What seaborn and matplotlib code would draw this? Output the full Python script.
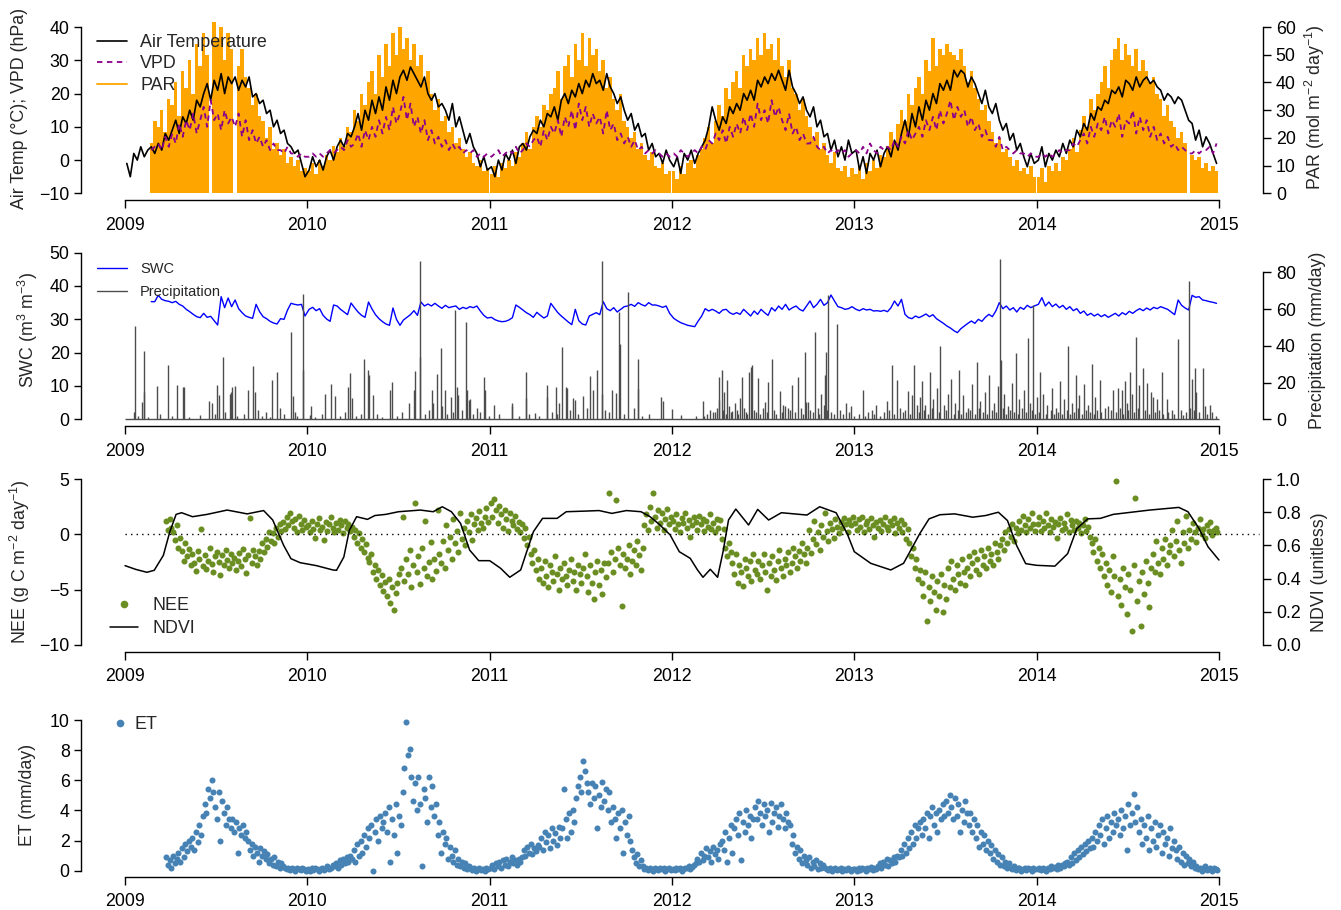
import numpy as np
import pandas as pd
import matplotlib
matplotlib.use("Agg")
import matplotlib.pyplot as plt
from matplotlib.lines import Line2D
import seaborn as sns

# ------------------------------------------------------------------
# Site record 2009-2014
# ------------------------------------------------------------------
years = [2009, 2010, 2011, 2012, 2013, 2014]
year_ticks = [2009, 2010, 2011, 2012, 2013, 2014, 2015]

# weekly air temperature (deg C), one line per year
air_temp = [
    -1, -5, 2, 0, 4, 1, 3, 4, 2, 5, 3, 8, 6, 9, 12, 8, 13, 11, 15, 12, 18, 16, 20, 23, 18, 24, 21, 26, 20, 25, 23, 25, 21, 24, 22, 25, 19, 20, 17, 18, 14, 15, 10, 12, 8, 9, 5, 4, 2, 3, -1, -5,
    -3, 1, -2, 0, -3, 1, 3, 0, 4, 6, 4, 8, 7, 10, 14, 9, 15, 12, 18, 14, 19, 15, 22, 18, 24, 20, 25, 27, 24, 28, 26, 24, 22, 25, 20, 18, 20, 16, 17, 15, 12, 17, 10, 13, 9, 5, 8, 4, 2, -2, 1, -3,
    -2, -5, 0, -3, 2, 0, 3, -1, 4, 5, 3, 7, 9, 8, 12, 10, 14, 13, 16, 12, 18, 20, 17, 21, 19, 23, 20, 24, 22, 26, 23, 24, 21, 26, 22, 20, 17, 19, 15, 12, 14, 9, 11, 7, 8, 3, 5, 1, 2, -1, 3, 0,
    -2, 1, -4, 2, 0, 3, -1, 2, 4, 6, 10, 16, 12, 9, 13, 11, 16, 14, 17, 15, 20, 18, 21, 18, 24, 22, 25, 23, 26, 24, 27, 24, 21, 27, 22, 20, 17, 19, 15, 13, 16, 10, 12, 7, 8, 3, 6, 1, 4, 0, 6, 2,
    3, -3, 1, -4, 2, 0, 3, -2, 2, 4, 1, 6, 3, 8, 12, 7, 14, 10, 16, 12, 18, 15, 20, 17, 23, 21, 24, 21, 27, 25, 27, 26, 22, 25, 23, 20, 17, 21, 16, 14, 17, 12, 9, 11, 6, 8, 3, 5, 1, -2, 2, -1,
    0, 4, -2, 2, 0, 3, 1, 5, 2, 6, 4, 9, 7, 11, 9, 14, 12, 16, 15, 18, 17, 21, 20, 22, 19, 24, 23, 21, 25, 22, 24, 25, 23, 24, 22, 21, 18, 20, 19, 17, 19, 18, 15, 12, 11, 6, 9, 4, 7, 5, 2, -1,
]

# weekly VPD (hPa), from mid-February 2009
vpd = [
    3, 4, 5, 3, 7, 4, 8, 5, 11, 7, 12, 9, 14, 8, 12, 16, 10, 18, 12, 14, 9, 15, 11, 13, 10, 14, 7, 12, 6, 9, 5, 7, 4, 6, 3, 5, 3, 3, 2, 4, 2, 2, 1, 2, 1,
    1, 2, 1, 2, 1, 2, 3, 2, 3, 4, 3, 6, 4, 5, 8, 4, 9, 6, 10, 7, 12, 8, 13, 9, 16, 11, 14, 19, 12, 17, 10, 13, 8, 12, 6, 9, 5, 7, 4, 6, 3, 5, 3, 4, 2, 3, 2, 3, 1, 2, 1, 2,
    1, 2, 3, 1, 2, 3, 2, 4, 2, 3, 5, 4, 6, 7, 4, 9, 6, 10, 8, 12, 7, 13, 10, 15, 9, 17, 12, 16, 10, 14, 11, 13, 8, 15, 9, 11, 6, 8, 5, 7, 4, 6, 3, 4, 2, 3, 2, 3, 2, 1, 2, 1,
    2, 1, 3, 2, 1, 2, 3, 2, 4, 3, 6, 5, 8, 6, 9, 5, 10, 7, 11, 8, 13, 9, 14, 10, 17, 12, 15, 11, 18, 13, 16, 12, 9, 14, 8, 10, 6, 8, 5, 5, 7, 4, 3, 4, 2, 3, 2, 3, 2, 3, 1, 2,
    3, 2, 4, 2, 5, 3, 2, 4, 3, 4, 3, 6, 4, 7, 5, 9, 6, 8, 10, 7, 12, 9, 13, 9, 15, 11, 14, 18, 12, 16, 13, 15, 10, 13, 9, 11, 7, 9, 6, 6, 4, 7, 3, 4, 3, 2, 3, 2, 2, 1, 2, 1,
    1, 2, 1, 2, 1, 2, 3, 2, 3, 3, 5, 4, 6, 8, 5, 10, 7, 11, 9, 13, 8, 12, 10, 14, 7, 12, 11, 15, 8, 13, 9, 12, 7, 10, 6, 8, 5, 7, 4, 5, 3, 4, 3, 2, 2, 3, 2, 3, 3, 4, 2, 5,
]

# weekly PAR (mol m-2 day-1), from mid-February 2009 (0 = sensor gap)
par = [
    18, 26, 24, 30, 22, 34, 32, 40, 28, 44, 38, 48, 36, 54, 46, 58, 50, 0, 62, 56, 60, 48, 58, 52, 0, 46, 52, 42, 38, 32, 36, 28, 26, 20, 24, 16, 18, 14, 16, 11, 13, 10, 12, 8, 9,
    8, 11, 7, 12, 10, 14, 12, 17, 15, 20, 17, 24, 22, 30, 26, 36, 32, 40, 44, 36, 50, 42, 54, 46, 58, 50, 60, 52, 56, 48, 54, 46, 50, 40, 44, 36, 30, 34, 26, 28, 22, 24, 18, 20, 16, 13, 15, 11, 10, 12, 8, 9,
    7, 10, 6, 11, 9, 12, 10, 15, 13, 18, 22, 16, 24, 28, 24, 32, 30, 36, 38, 44, 34, 46, 50, 42, 54, 48, 58, 46, 56, 50, 52, 44, 48, 38, 42, 34, 30, 36, 26, 24, 20, 22, 16, 18, 14, 12, 15, 10, 9, 11, 7, 8,
    8, 5, 10, 7, 11, 12, 9, 14, 16, 20, 24, 18, 26, 32, 28, 38, 34, 40, 44, 38, 50, 46, 52, 48, 56, 50, 58, 52, 54, 48, 56, 46, 42, 48, 38, 36, 30, 34, 28, 24, 20, 22, 16, 18, 14, 11, 15, 9, 8, 10, 6, 9,
    7, 10, 5, 11, 8, 12, 9, 14, 13, 17, 22, 18, 25, 30, 26, 36, 32, 38, 42, 36, 48, 44, 56, 46, 52, 50, 54, 51, 50, 48, 52, 46, 40, 44, 38, 34, 30, 32, 26, 22, 18, 20, 15, 16, 13, 10, 12, 8, 9, 7, 10, 6,
    6, 9, 4, 10, 8, 11, 8, 13, 12, 16, 20, 15, 23, 28, 24, 34, 30, 36, 40, 46, 38, 48, 52, 56, 48, 54, 50, 46, 52, 44, 48, 44, 40, 42, 36, 34, 28, 32, 26, 24, 20, 22, 18, 0, 14, 12, 13, 9, 11, 8, 10, 8,
]

# weekly soil water content (m3 m-3, %), from mid-February 2009
swc = [
    35.3, 35.3, 37.2, 36.0, 35.6, 35.4, 35.0, 35.4, 34.5, 34.0, 33.0, 32.3, 31.5, 30.8, 30.5, 31.8, 30.6, 30.9, 29.6, 28.3, 36.8, 33.5, 36.4, 33.8, 35.8, 33.2, 32.0, 31.0, 30.6, 30.3, 34.5, 32.3, 30.8, 30.2, 29.4, 28.9, 28.6, 30.2, 30.0, 32.8, 34.8, 34.5, 34.3, 34.5, 31.0,
    33.0, 33.6, 32.6, 33.2, 31.2, 30.1, 29.4, 34.3, 34.0, 33.0, 32.2, 31.4, 34.9, 33.5, 32.2, 31.2, 30.6, 35.2, 33.1, 31.4, 30.2, 29.3, 28.6, 28.2, 33.4, 30.0, 28.2, 29.8, 30.6, 31.4, 32.6, 31.2, 35.2, 34.0, 34.6, 34.0, 34.8, 34.0, 33.3, 34.2, 33.5, 33.8, 34.0, 33.0, 33.6, 33.2, 33.8, 33.5, 34.0, 32.5, 31.2, 30.4,
    30.6, 29.9, 29.5, 29.3, 29.4, 29.8, 30.5, 34.3, 33.6, 32.8, 32.0, 31.4, 30.6, 32.1, 31.2, 30.4, 31.0, 34.8, 33.4, 32.0, 31.0, 30.1, 29.2, 28.4, 33.0, 29.6, 28.6, 28.3, 31.0, 31.5, 32.0, 31.4, 35.3, 33.2, 32.6, 33.5, 32.2, 33.0, 33.8, 34.0, 34.5, 33.9, 35.0, 34.4, 34.0, 35.0, 34.3, 34.3, 34.0, 33.6, 34.0, 31.8,
    30.3, 29.6, 29.0, 28.6, 28.2, 28.0, 27.8, 29.5, 31.0, 33.2, 32.5, 33.0, 32.5, 31.8, 32.8, 33.0, 32.0, 31.5, 32.0, 31.5, 33.0, 32.0, 31.0, 32.5, 31.5, 33.0, 32.0, 31.2, 33.5, 32.5, 34.0, 33.0, 34.5, 32.8, 33.5, 34.0, 33.0, 32.5, 34.0, 35.5, 33.5, 34.5, 36.0, 34.2, 35.0, 37.3, 35.5, 33.8, 33.5, 33.0, 33.2, 33.8,
    33.0, 32.6, 33.2, 32.8, 33.0, 32.5, 32.6, 32.4, 32.7, 32.3, 33.5, 35.5, 34.0, 36.0, 31.5, 30.5, 30.2, 31.0, 30.5, 31.0, 31.6, 30.8, 31.4, 30.2, 29.5, 28.8, 28.0, 27.4, 26.6, 26.0, 27.2, 28.0, 28.8, 29.5, 28.8, 30.0, 29.4, 30.6, 31.5, 30.8, 32.5, 35.0, 33.2, 34.0, 32.8, 33.5, 32.2, 33.6, 33.0, 34.2, 33.5, 34.0,
    34.5, 36.5, 34.0, 35.2, 33.8, 34.6, 33.5, 34.2, 33.0, 33.8, 32.6, 33.2, 31.8, 32.5, 31.2, 31.8, 31.0, 31.6, 30.8, 31.4, 30.6, 31.2, 31.8, 31.0, 32.0, 31.4, 32.4, 31.8, 32.6, 33.2, 32.6, 33.4, 32.8, 33.6, 33.2, 33.8, 33.4, 33.0, 32.2, 31.4, 35.8, 34.2, 33.4, 32.8, 37.2, 36.6, 36.8, 35.8, 35.6, 35.3, 35.1, 34.8,
]

# rain days: day number since 1 Jan 2009, daily total (mm)
precip_day = [
    17, 20, 33, 37, 38, 63, 87, 105, 116, 118, 169, 174, 185, 188, 197, 210, 213, 214, 220, 247, 257, 260, 267, 283, 294, 304, 310,
    333, 337, 340, 356, 357, 371, 372, 401, 413, 421, 447, 451, 454, 472, 479, 487, 489, 497, 530, 534, 568, 578, 581, 590, 591,
    614, 617, 624, 632, 634, 641, 652, 661, 665, 668, 683, 686, 690, 692, 720, 721, 739, 775, 776, 803, 804, 821, 845, 846, 863, 870,
    875, 883, 886, 897, 901, 917, 932, 938, 945, 955, 956, 975, 984, 990, 991, 1008, 1020, 1027, 1028, 1073, 1077, 1096, 1113, 1143,
    1157, 1172, 1177, 1189, 1190, 1195, 1200, 1206, 1216, 1221, 1231, 1236, 1244, 1250, 1254, 1257, 1268, 1282, 1289, 1296, 1312,
    1322, 1329, 1337, 1349, 1362, 1365, 1369, 1383, 1395, 1400, 1402, 1404, 1409, 1426, 1445, 1454, 1479, 1489, 1496, 1505, 1527,
    1536, 1547, 1569, 1576, 1581, 1586, 1592, 1597, 1603, 1612, 1619, 1626, 1633, 1640, 1648, 1655, 1662, 1671, 1679, 1688, 1697,
    1706, 1713, 1722, 1731, 1740, 1748, 1753, 1754, 1761, 1768, 1776, 1784, 1791, 1800, 1808, 1812, 1819, 1826, 1833, 1840, 1848,
    1858, 1866, 1874, 1882, 1890, 1897, 1905, 1912, 1921, 1929, 1937, 1944, 1953, 1970, 1980, 1990, 1997, 2004, 2007, 2014, 2018,
    2026, 2032, 2040, 2047, 2055, 2060, 2067, 2077, 2087, 2097, 2109, 2119, 2132, 2137, 2144, 2146, 2159, 2164, 2174,
]
precip_mm = [
    4, 51, 9.6, 37, 15, 18, 29.5, 18.7, 17.8, 17.4, 10, 9, 18.7, 13, 34, 13.8, 15, 17.8, 18, 16, 29, 15, 5, 4, 21.4, 25.6, 6,
    47.7, 12.7, 4, 68, 27, 2.4, 7, 14, 19, 12.7, 17.8, 25.4, 11.4, 3, 32.6, 26.8, 24, 13.2, 16, 20.5, 8.7, 16, 26.5, 86, 34,
    16, 8.7, 24.5, 39, 7, 16, 12, 59.5, 17.8, 13.2, 53, 16, 10.5, 11, 22.8, 16, 7.8, 8.7, 7, 11.8, 25.6, 3.3, 12.3, 18.7, 17.4, 8.7,
    39.5, 17.8, 17.2, 11.4, 10.5, 12.9, 23.8, 16, 26.8, 86, 13.6, 16, 14.5, 58.6, 41, 69, 6, 32.8, 16.3, 12, 10, 5.6, 2.4, 1.8,
    10.2, 5, 4.2, 22.8, 10.5, 26.8, 15, 21.4, 4.5, 8.7, 11.8, 22.8, 4.2, 25.6, 28.3, 29.5, 22.3, 9.6, 20.5, 32.6, 15.6,
    7.3, 6, 18.7, 22.8, 36.8, 9.6, 9.6, 47.7, 13.6, 7.8, 24, 36.8, 67.6, 51.8, 8.7, 7, 15.8, 4.2, 5, 7.8, 10.2,
    29.5, 21.4, 15.6, 13.2, 29.5, 7.8, 12, 21, 8, 26, 11, 17, 40, 8, 14, 22, 9, 27, 13, 6, 19,
    31, 10, 15, 24, 9, 18, 87, 32, 14, 7, 20, 36, 11, 16, 44, 9, 62, 12, 26, 14, 8,
    17, 6, 21, 11, 40, 9, 24, 13, 19, 8, 30, 12, 21.4, 7, 16, 17, 16, 21, 8.7, 26, 14,
    45, 18.7, 28, 19.6, 15, 12.3, 10.9, 26, 10.9, 5, 43.9, 2.4, 75, 22, 27.7, 15, 28, 7, 7.8,
]
# light rain days
drizzle_day = [
    25, 45, 70, 95, 128, 150, 180, 200, 225, 238, 275, 290, 318, 345, 380, 395, 430, 440, 462, 505,
    515, 545, 555, 600, 608, 645, 658, 675, 698, 705, 712, 730, 750, 790, 810, 830, 855, 866, 892, 908,
    925, 962, 970, 1000, 1035, 1050, 1160, 1166, 1182, 1186, 1198, 1203, 1210, 1213, 1226, 1228,
    1240, 1247, 1261, 1264, 1272, 1278, 1286, 1300, 1305, 1316, 1318, 1333, 1342, 1354, 1358, 1373, 1378, 1388, 1391, 1406,
    1414, 1420, 1432, 1438, 1450, 1460, 1470, 1482, 1500, 1512, 1520, 1531, 1540, 1552, 1558, 1563, 1573, 1590, 1600, 1608,
    1616, 1630, 1645, 1660, 1668, 1675, 1685, 1693, 1702, 1710, 1718, 1727, 1736, 1744, 1758, 1765, 1772, 1780, 1788, 1796,
    1804, 1816, 1823, 1830, 1845, 1855, 1862, 1870, 1878, 1887, 1894, 1901, 1909, 1917, 1925, 1933, 1941, 1948, 1956, 1963,
    1975, 1985, 1993, 2000, 2010, 2021, 2030, 2043, 2051, 2063, 2072, 2080, 2090, 2101, 2115, 2126, 2134, 2141, 2151, 2168,
    2178, 2185,
]
drizzle_mm = [
    2, 1.5, 3, 2, 1, 2.5, 3, 4, 2, 3, 2, 1.5, 3, 2, 1, 3, 2, 4, 2, 3,
    1.5, 2, 4, 3, 5, 3, 4, 5, 3, 6, 4, 2, 3, 2, 3, 2, 4, 3, 5, 3,
    6, 5, 4, 3, 2, 3, 2, 3, 4, 6, 5, 3, 7, 4, 5, 3,
    6, 3, 5, 4, 3, 6, 4, 5, 3, 4, 8, 5, 4, 6, 3, 5, 4, 6, 3, 5,
    4, 3, 5, 3, 4, 2, 3, 2, 3, 2, 4, 5, 3, 6, 4, 5, 3, 4, 5, 3,
    6, 4, 5, 3, 5, 3, 4, 5, 3, 6, 4, 3, 5, 4, 6, 3, 5, 4, 3, 6,
    4, 5, 3, 4, 3, 5, 3, 4, 3, 5, 3, 4, 6, 3, 5, 4, 3, 5, 4, 6,
    5, 4, 6, 3, 5, 4, 6, 5, 3, 4, 5, 3, 4, 3, 5, 4, 6, 5, 4, 3,
    4, 2,
]

# MODIS NDVI (decimal year, value)
ndvi_t = [
    2009.00, 2009.06, 2009.12, 2009.16, 2009.21, 2009.245, 2009.28, 2009.31, 2009.37, 2009.45, 2009.56, 2009.67, 2009.76, 2009.81, 2009.87, 2009.91, 2009.96,
    2010.05, 2010.14, 2010.16, 2010.20, 2010.23, 2010.27, 2010.33, 2010.37, 2010.43, 2010.50, 2010.62, 2010.69, 2010.74, 2010.79, 2010.84, 2010.89, 2010.94,
    2011.00, 2011.06, 2011.11, 2011.17, 2011.20, 2011.24, 2011.29, 2011.37, 2011.42, 2011.53, 2011.60, 2011.67, 2011.75, 2011.83, 2011.88, 2011.93, 2011.99,
    2012.04, 2012.10, 2012.14, 2012.17, 2012.21, 2012.25, 2012.28, 2012.31, 2012.35, 2012.42, 2012.47, 2012.53, 2012.60, 2012.74, 2012.81, 2012.90, 2012.96,
    2013.00, 2013.09, 2013.20, 2013.27, 2013.32, 2013.36, 2013.41, 2013.47, 2013.55, 2013.65, 2013.72, 2013.79, 2013.84, 2013.89, 2013.94,
    2014.00, 2014.10, 2014.17, 2014.22, 2014.28, 2014.35, 2014.42, 2014.62, 2014.78, 2014.83, 2014.89, 2014.94, 2015.00,
]
ndvi = [
    0.478, 0.455, 0.438, 0.450, 0.540, 0.680, 0.787, 0.797, 0.773, 0.787, 0.813, 0.790, 0.810, 0.753, 0.600, 0.520, 0.496,
    0.478, 0.452, 0.450, 0.530, 0.690, 0.773, 0.757, 0.780, 0.787, 0.803, 0.813, 0.803, 0.833, 0.803, 0.733, 0.572, 0.508,
    0.508, 0.462, 0.408, 0.452, 0.552, 0.683, 0.763, 0.763, 0.803, 0.807, 0.810, 0.793, 0.810, 0.803, 0.773, 0.727, 0.663,
    0.562, 0.522, 0.452, 0.408, 0.456, 0.408, 0.562, 0.753, 0.819, 0.723, 0.817, 0.753, 0.797, 0.783, 0.833, 0.797, 0.673,
    0.562, 0.492, 0.452, 0.492, 0.592, 0.673, 0.760, 0.785, 0.790, 0.770, 0.780, 0.800, 0.750, 0.600, 0.490,
    0.480, 0.475, 0.550, 0.700, 0.760, 0.763, 0.787, 0.813, 0.829, 0.803, 0.703, 0.592, 0.512,
]

# half-weekly NEE (g C m-2 day-1), from late March 2009
nee = [
    1.2, 0.4, 1.4, 0.6, 0.2, -0.5, 0.8, -1.2, -0.3, -1.5, -2.4, -0.8, -2.0, -1.3, -2.8, -1.8, -2.6, -3.3, -1.5, -2.2, 0.5, -2.9, -1.9, -3.1, -2.4, -1.2, -2.7, -3.4, -2.0, -1.6,
    -2.5, -3.7, -1.9, -2.8, -1.4, -2.3, -3.0, -1.8, -2.6, -2.1, -3.2, -2.4, -1.7, -2.9, -1.3, -2.2, -3.5, -1.9, 1.5, -2.6, -1.4, -2.0, -2.8,
    -1.5, -2.2, -0.8, -1.6, -0.4, -1.1, 0.2, -0.6, 0.1, -0.8, 0.6, -0.2, 0.9, 0.3, 1.1, 0.5, 1.6, 0.8, 1.9, 1.2, 0.6, 1.4, 0.2, 1.7, 0.9, 0.4, 1.3, 0.7,
    0.8, 0.2, 1.2, 0.5, -0.3, 0.9, 1.5, 0.4, 0.7, -0.5, 1.1, 0.3, 0.9, 1.6, 0.6, 0.2, 1.0, 0.4, 1.3, 0.8, 0.1, 1.2, 0.6, 0.9, 0.3,
    0.7, -0.2, 0.4, -0.8, 0.1, -1.2, -0.4, -1.6, -0.9, -2.1,
    -2.5, -1.8, -3.4, -2.8, -4.0, -3.2, -4.6, -3.7, -5.1, -4.3, -5.6, -4.0, -6.2, -4.8, -6.8, -5.3, -4.4, -3.6,
    -3.0, 1.6, -4.2, -2.2, -3.6, -1.4, -4.8, -2.8, 2.8, -3.4, -2.0, -4.5, -1.2, -3.0, 1.2, -3.8, -2.5, -0.7, -4.0, -2.2, -3.3, 2.2, -1.8,
    -2.6, -0.6, -3.0, 0.8, -1.4, -0.2, -2.2, 1.4, -0.8, 0.3, -1.6, 1.9, -0.4, 0.6, -1.0,
    1.2, 0.2, 1.8, -0.5, 0.9, 1.5, 0.4, 2.1, 1.0, 0.6, 1.6, 2.4, 1.1,
    2.8, 1.6, 3.2, 2.2, 1.0, 2.6, 1.8, 0.6, 2.2, 1.4, 0.3, 1.9, 1.2, 0.8, 1.7, 0.5, 1.1, 0.2, 0.9, -0.3, 0.6,
    -1.0, -0.2, -1.8, -2.6, -1.4, -3.2, -2.2, -4.0,
    -3.0, -4.4, -2.4, -3.8, -4.8, -2.8, -3.4, -4.2, -2.0, -3.6, -5.0, -3.0, -4.0, -2.6, -3.8, -4.6, -3.2, -2.2, -4.2, -3.4, -5.0, -2.8, -3.6, -4.4, -3.0, -1.8,
    -3.8, -5.2, -2.8, -4.4, -5.8, -3.4, -2.4, -4.6, -3.2, -5.4, -2.6, -3.9,
    -2.6, 3.7, -1.6, -3.4, -2.2, 3.1, -1.2, -2.8, -6.5, -1.8, -3.0, -2.2, -1.0, -3.6, -2.4, -1.4, -2.8, -0.6, -1.9, -3.2, -1.2,
    0.8, 1.8, 0.4, 2.5, 1.2, 3.7, 1.6, 0.6, 2.2, 1.0, 1.9, 0.4, 1.4, 2.3, 0.9, 1.6,
    1.2, 0.5, 1.8, 0.9, 0.2, 1.5, 1.0, 1.9, 0.6, 1.3, -0.2, 0.8, 1.6, 1.1, 0.4, 1.7, 0.9, 1.4, 0.3, 1.2, 0.7, 1.8, 0.5, 1.0, 0.2, 1.4, 0.6,
    1.3, -0.4, 0.5, -1.2, -2.0, -0.8, -1.6,
    -2.6, -3.6, -1.8, -4.4, -2.8, -3.4, -4.7, -2.2, -3.0, -3.8, -2.4, -4.2, -1.8, -3.2,
    -3.6, -2.4, -4.0, -2.8, -1.8, -3.4, -5.0, -2.6, -3.8, -2.0, -3.2, -4.1, -2.4, -1.4, -3.0, -3.8, -2.2, -2.8, -1.6, -3.4, -2.6, -1.2, -2.0, -3.0, -1.5, -2.4, -0.8, -1.8, -2.6,
    -1.2, 0.4, -1.7, -0.4, 1.2, -0.9, 0.2, -1.4, 0.8, -0.2, 1.9, 0.3, -0.6, 1.0, 0.5, -0.3, 1.4, 0.7, 0.1, 1.1,
    0.6, 1.5, 0.9, 0.2, 1.3, 0.8, 1.6,
    1.0, 0.4, 1.4, 0.7, 1.6, 0.2, 0.9, 1.2, 0.5, 1.5, 0.8, -0.2, 1.1, 0.6, 1.3, 0.3, 0.9, 1.6, 0.7, 0.4, 1.2, 0.8, 1.5, 0.1, 1.0, 0.6, 1.3, 0.2, 0.9, -0.4, 0.5,
    -0.8, -2.0, -1.2, -3.0, -2.2, -4.0, -3.2,
    -4.4, -5.6, -3.4, -7.8, -4.8, -6.0, -3.8, -5.2, -6.8, -4.2, -5.6, -3.6, -7.0, -4.6, -5.8,
    -3.0, -4.8, -2.4, -4.0, -5.0, -2.8, -3.6, -4.4, -2.2, -3.4, -4.6,
    -3.0, -2.0, -3.8, -2.6, -1.6, -3.2, -2.2, -3.6, -1.4, -2.8, -2.0, -3.0, -1.2, -2.4, -1.8, -2.8, -0.8, -1.6, -2.2, -1.0,
    -0.4, -1.4, 0.2, -0.8, 0.5, -0.2, 0.9, -0.6, 0.6, 0.1,
    1.2, 0.4, 1.7, 0.8, 0.2, 1.4, 0.6, 1.9, 0.9, 0.3,
    0.9, 1.6, 0.3, 1.2, 0.6, 1.9, 0.8, 0.2, 1.4, 0.7, 1.1, -0.3, 0.9, 1.5, 0.4, 1.0, 0.6, 1.8, 0.2, 1.3, 0.8, 0.4, 1.2, 0.6, 1.0, 0.1, 0.8, 1.4, 0.3, 0.7, -0.2,
    -0.8, -1.6, -0.4, -2.4, -1.2, -3.0, -1.8, -3.8,
    -2.6, -4.6, -3.2, -5.2, -2.0, -3.8, 4.8, -5.6, -4.0, -6.4, -3.0, -4.8, -7.2, -3.6, -5.0, -8.7, -2.8, 3.3, -6.0, -4.2, -8.3, -3.4, -5.4, -2.4, -4.4, -6.6, -3.0,
    -1.8, -3.4, -0.6, -2.6, -3.6, -1.2, -2.2, -0.4, -2.8, -1.6,
    -1.0, 0.4, -2.0, -0.6, 1.2, -1.4, -2.6, 0.2, -0.8, 1.7, -1.2,
    0.4, -0.4, 1.0, 0.2, -0.7, 0.6, 1.4, 0.0, 0.5, -0.3, 0.8, 0.3, 1.1, -0.1, 0.4, 0.6, 0.2,
]

# half-weekly evapotranspiration (mm/day), from late March 2009
et = [
    0.9, 0.4, 0.7, 0.2, 1.0, 0.5, 0.8, 1.2, 0.6, 1.5, 0.9, 1.8, 1.3, 2.0, 1.6, 2.2, 1.4, 2.6, 1.9, 3.0, 2.4, 3.6, 4.4, 3.8, 5.4, 4.8, 6.0, 5.2,
    4.2, 3.4, 5.2, 2.0, 4.6, 3.8, 3.0, 4.2, 3.4, 2.8, 3.4, 2.6, 3.2, 1.2, 2.8, 2.4, 3.0, 2.2, 2.6, 2.0,
    1.4, 1.8, 1.0, 1.6, 1.2, 0.6, 1.5, 1.0, 1.3, 0.8, 1.1, 0.5, 0.8, 0.4, 0.9, 0.3, 0.6, 0.2, 0.5, 0.3, 0.2,
    0.1, 0.2, 0.05, 0.15, 0.1, 0.0, 0.2, 0.1, 0.05, 0.15, 0.1, 0.0,
    0.1, 0.0, 0.15, 0.05, 0.2, 0.1, 0.0, 0.1, 0.2, 0.05, 0.15, 0.3, 0.1, 0.2, 0.35,
    0.3, 0.5, 0.2, 0.7, 0.4, 0.8, 0.5, 0.9, 0.6, 1.0, 0.8, 1.4, 0.6, 1.8, 1.0, 2.0, 1.2, 2.4, 1.6, 2.8,
    2.2, 3.0, 0.0, 2.6, 3.4, 2.0, 3.6, 2.8, 3.2, 3.8, 2.6, 4.2, 0.6, 3.4, 2.4, 4.4, 1.2, 3.6, 3.0,
    5.2, 6.8, 9.9, 7.7, 8.1, 6.2, 4.6, 5.8, 4.0, 6.2, 4.4, 0.3, 5.4, 4.8, 3.2, 6.2, 4.2, 5.6,
    3.6, 4.4, 2.4, 3.2, 1.2, 2.6, 1.8, 2.2, 0.8, 1.6, 1.0, 0.6, 1.4, 0.4, 0.8, 0.3, 0.6, 0.2, 0.5, 0.1, 0.3,
    0.2, 0.05, 0.15, 0.0, 0.1, 0.2, 0.05, 0.1, 0.0, 0.15, 0.1,
    0.2, 0.4, 0.1, 0.5, 0.3, 0.6, 0.2, 0.7, 0.4, 0.8, 0.3, 0.6, 0.9, 0.5, 0.7, 0.4, 0.8, 0.6,
    0.9, 1.4, 1.0, 1.6, 1.2, 1.8, 1.1, 1.5, 1.3, 1.7, 1.6, 2.2, 1.4, 2.6, 1.9, 2.4, 1.5, 2.8, 2.0, 2.5, 1.7, 2.9, 2.2,
    2.8, 5.4, 3.4, 2.2, 3.8, 2.6, 4.0, 3.2, 4.8, 5.6, 6.2, 5.2, 7.3, 6.6, 5.8,
    5.2, 4.4, 5.8, 4.8, 5.6, 2.8, 5.0, 4.2, 5.9, 4.6, 5.4, 4.0, 5.2, 3.2,
    4.2, 3.4, 2.2, 3.8, 2.8, 4.0, 1.2, 3.2, 2.4, 3.6, 2.0, 1.4, 0.9, 0.5, 1.1, 0.3, 0.7,
    0.3, 0.1, 0.2, 0.05, 0.15, 0.1, 0.0, 0.2, 0.1, 0.05, 0.15, 0.1, 0.2, 0.0, 0.1, 0.15, 0.05,
    0.1, 0.05, 0.15, 0.1, 0.2, 0.0, 0.1, 0.2, 0.15, 0.3, 0.1, 0.25, 0.4,
    0.5, 0.8, 0.6, 1.2, 0.7, 1.0, 1.5, 0.9, 1.3, 0.6, 1.6, 1.1, 1.4, 0.8, 1.8,
    2.0, 1.4, 2.6, 0.6, 2.2, 3.0, 1.2, 2.8, 3.4, 2.4, 3.8, 0.7, 3.2, 2.6, 4.0, 3.0, 3.6, 2.2, 3.4,
    4.2, 3.4, 4.6, 3.8, 3.0, 4.4, 3.6, 4.0, 2.6, 4.5, 3.2, 3.8, 4.2, 2.9, 3.6, 4.4, 3.4, 2.8, 3.8, 3.2,
    3.0, 1.8, 2.4, 1.2, 1.6, 0.8, 1.4, 0.5, 1.0, 0.7, 0.4, 0.9, 0.2, 0.6, 0.3, 0.7, 0.1, 0.5, 0.2, 0.4,
    0.2, 0.1, 0.05, 0.15, 0.0, 0.1, 0.2, 0.05, 0.1, 0.15, 0.0, 0.1, 0.05, 0.2, 0.1, 0.0, 0.1,
    0.1, 0.0, 0.15, 0.05, 0.2, 0.1, 0.0, 0.15, 0.1, 0.25, 0.05, 0.2, 0.1,
    0.3, 0.5, 0.2, 0.6, 0.4, 0.8, 0.3, 0.7, 0.5, 0.9, 0.6, 1.0,
    0.9, 1.4, 1.0, 1.8, 1.2, 2.2, 1.5, 2.6, 1.8, 3.0, 2.2, 2.8, 3.2,
    2.4, 3.4, 2.8, 3.8, 2.2, 3.6, 4.2, 3.0, 3.8, 2.6, 4.0, 3.4, 4.4, 3.6,
    4.6, 3.8, 5.0, 4.2, 3.4, 4.8, 3.6, 4.4, 2.6, 4.0, 3.2, 4.6, 3.8,
    3.0, 3.8, 2.6, 3.4, 2.2, 3.0, 1.6, 2.6, 1.8, 2.4, 1.4, 2.0,
    1.2, 1.7, 0.8, 1.4, 0.6, 1.1, 0.4, 0.9, 0.3, 0.6, 0.2, 0.5,
    0.2, 0.1, 0.3, 0.05, 0.15, 0.2, 0.0, 0.1, 0.2, 0.05, 0.15, 0.1, 0.0, 0.2, 0.1,
    0.1, 0.2, 0.05, 0.15, 0.1, 0.0, 0.2, 0.1, 0.3, 0.15, 0.25, 0.1, 0.35, 0.2, 0.4, 0.3, 0.5,
    0.6, 0.4, 0.9, 0.5, 1.2, 0.7, 1.4, 0.9, 1.6, 1.1, 1.8, 1.3, 2.0, 1.5,
    2.2, 1.6, 2.6, 2.0, 3.0, 2.4, 3.4, 1.8, 2.8, 3.6, 2.2, 3.2, 2.6, 3.8, 3.0,
    3.4, 2.4, 4.0, 2.8, 3.6, 1.4, 4.4, 3.0, 3.8, 5.1, 3.2, 4.2,
    2.6, 3.4, 1.8, 3.0, 2.2, 3.6, 1.4, 2.8, 2.0, 3.2, 1.6, 2.4, 3.0, 1.2, 2.6, 1.8, 2.2, 1.0, 2.8, 1.5, 2.0,
    1.4, 0.8, 1.6, 0.6, 1.2, 0.4, 1.0, 0.5, 0.8, 0.3, 0.6, 0.2,
    0.3, 0.1, 0.2, 0.0, 0.15, 0.3, 0.05, 0.1, 0.2, 0.0, 0.15, 0.1, 0.05,
]

# ------------------------------------------------------------------
# time axes (decimal years)
# ------------------------------------------------------------------
week_grid = np.array([y + (k * 7 + 3.5) / 365.25 for y in years for k in range(52)])
half_grid = np.array([y + (i * 3.5 + 1.75) / 365.25 for y in years for i in range(104)])

df_temp = pd.DataFrame({"year": week_grid[-len(air_temp):], "value": air_temp})
df_vpd = pd.DataFrame({"year": week_grid[-len(vpd):], "value": vpd})
df_par = pd.DataFrame({"year": week_grid[-len(par):], "value": par})
df_swc = pd.DataFrame({"year": week_grid[-len(swc):], "value": swc})
df_nee = pd.DataFrame({"year": half_grid[-len(nee):], "value": nee})
df_et = pd.DataFrame({"year": half_grid[-len(et):], "value": et})
df_ndvi = pd.DataFrame({"year": ndvi_t, "value": ndvi})
rain_x = years[0] + np.array(precip_day + drizzle_day) / 365.25
rain_y = np.array(precip_mm + drizzle_mm)

# ------------------------------------------------------------------
# style
# ------------------------------------------------------------------
sns.set_style("ticks")
plt.rcParams["font.family"] = ["Liberation Sans", "DejaVu Sans"]
plt.rcParams["mathtext.fontset"] = "custom"
plt.rcParams["mathtext.rm"] = "Liberation Sans"
plt.rcParams["mathtext.it"] = "Liberation Sans:italic"
plt.rcParams["mathtext.bf"] = "Liberation Sans:bold"
plt.rcParams["axes.unicode_minus"] = True

C_PAR = "#FFA500"
C_VPD = "#8B008B"
C_SWC = "#0000FF"
C_RAIN = "#4D4D4D"
C_NEE = "#6B8E23"
C_ET = "#4682B4"

W, H = 1341, 910
X0, X1 = 81.3, 1262.7
XLIM = (year_ticks[0] - 0.24, year_ticks[-1] + 0.24)
FS = 12.8
TICK_LEN = 5.4

fig = plt.figure(figsize=(W / 100, H / 100), dpi=100)


def panel(top, bottom):
    return fig.add_axes([X0 / W, 1 - bottom / H, (X1 - X0) / W, (bottom - top) / H])


def style_main(ax, ylim, ticks, labels=None):
    ax.set_xlim(*XLIM)
    ax.set_ylim(*ylim)
    for s in ("top", "right"):
        ax.spines[s].set_visible(False)
    ax.spines["left"].set_bounds(ticks[0], ticks[-1])
    ax.spines["bottom"].set_bounds(year_ticks[0], year_ticks[-1])
    for s in ("left", "bottom"):
        ax.spines[s].set_linewidth(1.0)
        ax.spines[s].set_color("black")
    ax.set_xticks(year_ticks)
    ax.set_xticklabels([str(y) for y in year_ticks])
    ax.set_yticks(ticks)
    if labels is not None:
        ax.set_yticklabels(labels)
    ax.tick_params(axis="both", direction="out", length=TICK_LEN, width=1.0,
                   labelsize=FS, colors="black")
    ax.tick_params(axis="x", pad=6.5)
    ax.tick_params(axis="y", pad=3)
    ax.set_xlabel("")
    ax.set_ylabel("")


def style_right(ax, ylim, ticks, labels=None):
    ax.set_ylim(*ylim)
    for s in ("top", "left", "bottom"):
        ax.spines[s].set_visible(False)
    ax.spines["right"].set_visible(True)
    ax.spines["right"].set_bounds(ticks[0], ticks[-1])
    ax.spines["right"].set_linewidth(1.0)
    ax.spines["right"].set_color("black")
    ax.set_yticks(ticks)
    if labels is not None:
        ax.set_yticklabels(labels)
    ax.tick_params(axis="y", direction="out", length=TICK_LEN, width=1.0,
                   labelsize=FS, colors="black", pad=4)
    ax.set_xlabel("")
    ax.set_ylabel("")


def legend_at(ax, handles, labels, left_px, top_px, fs, hl, htp, ls):
    ax.legend(handles, labels, loc="upper left",
              bbox_to_anchor=(left_px / W, 1 - top_px / H), bbox_transform=fig.transFigure,
              frameon=False, borderpad=0, borderaxespad=0, handlelength=hl,
              handletextpad=htp, labelspacing=ls, fontsize=fs)


def side_label(x_px, y_px, text):
    fig.text(x_px / W, 1 - y_px / H, text, rotation=90, ha="center", va="center", fontsize=FS)


# ---------------- panel 1: air temperature, VPD, PAR ----------------
ax1 = panel(20.4, 200.0)
ax1r = ax1.twinx()
ax1.set_zorder(ax1r.get_zorder() + 1)
ax1.patch.set_visible(False)

ax1r.bar(df_par["year"], df_par["value"], width=7 / 365.25, color=C_PAR, linewidth=0)
sns.lineplot(data=df_temp, x="year", y="value", ax=ax1, color="black", lw=1.2,
             estimator=None, legend=False)
sns.lineplot(data=df_vpd, x="year", y="value", ax=ax1, color=C_VPD, lw=1.3,
             estimator=None, legend=False)
ax1.lines[-1].set_dashes([3, 2.5])

style_main(ax1, (-12, 42), [-10, 0, 10, 20, 30, 40])
style_right(ax1r, (-2.42, 62.4), [0, 10, 20, 30, 40, 50, 60])
ax1r.set_xlim(*XLIM)
legend_at(ax1,
          [Line2D([], [], color="black", lw=1.2),
           Line2D([], [], color=C_VPD, lw=1.3, dashes=[3, 2.5]),
           Line2D([], [], color=C_PAR, lw=1.3)],
          ["Air Temperature", "VPD", "PAR"], 97, 34, 12.9, 1.68, 0.73, 0.25)
side_label(20, 108, "Air Temp (°C); VPD (hPa)")
side_label(1315, 107, r"PAR (mol m$^{-2}$ day$^{-1}$)")

# ---------------- panel 2: soil water content, precipitation ----------------
ax2 = panel(246.0, 426.0)
ax2r = ax2.twinx()
sns.lineplot(data=df_swc, x="year", y="value", ax=ax2, color=C_SWC, lw=1.0,
             estimator=None, legend=False)
ax2r.vlines(rain_x, 0, rain_y, color=C_RAIN, lw=1.0)
ax2r.hlines(0, year_ticks[0], year_ticks[-1], color=C_RAIN, lw=1.0)
style_main(ax2, (-2, 52), [0, 10, 20, 30, 40, 50])
style_right(ax2r, (-3.65, 94.3), [0, 20, 40, 60, 80])
ax2r.set_xlim(*XLIM)
legend_at(ax2r,
          [Line2D([], [], color=C_SWC, lw=1.0), Line2D([], [], color=C_RAIN, lw=1.0)],
          ["SWC", "Precipitation"], 97, 262, 10.5, 2.05, 0.9, 0.6)
side_label(28, 330, r"SWC (m$^3$ m$^{-3}$)")
side_label(1317, 340, "Precipitation (mm/day)")

# ---------------- panel 3: NEE and NDVI ----------------
ax3 = panel(472.4, 651.6)
ax3r = ax3.twinx()
ax3.hlines(0, year_ticks[0], XLIM[1] - 0.02, color="black", lw=1.0, linestyles=(0, (1, 3)))
sns.scatterplot(data=df_nee, x="year", y="value", ax=ax3, color=C_NEE, s=19,
                linewidth=0, legend=False)
sns.lineplot(data=df_ndvi, x="year", y="value", ax=ax3r, color="black", lw=1.1,
             estimator=None, legend=False)
style_main(ax3, (-10.6, 5.6), [-10, -5, 0, 5])
style_right(ax3r, (-0.04, 1.04), [0.0, 0.2, 0.4, 0.6, 0.8, 1.0],
            ["0.0", "0.2", "0.4", "0.6", "0.8", "1.0"])
ax3r.set_xlim(*XLIM)
legend_at(ax3r,
          [Line2D([], [], color=C_NEE, marker="o", ls="", markersize=5.5, markeredgewidth=0),
           Line2D([], [], color="black", lw=1.1)],
          ["NEE", "NDVI"], 110, 597, 12.9, 1.56, 0.84, 0.34)
side_label(20, 562, r"NEE (g C m$^{-2}$ day$^{-1}$)")
side_label(1320, 572, "NDVI (unitless)")

# ---------------- panel 4: evapotranspiration ----------------
ax4 = panel(714.0, 876.7)
sns.scatterplot(data=df_et, x="year", y="value", ax=ax4, color=C_ET, s=19,
                linewidth=0, legend=False)
style_main(ax4, (-0.4, 10.4), [0, 2, 4, 6, 8, 10])
legend_at(ax4,
          [Line2D([], [], color=C_ET, marker="o", ls="", markersize=5.5, markeredgewidth=0)],
          ["ET"], 111, 716, 12.9, 1.0, 0.33, 0.1)
side_label(28, 795, "ET (mm/day)")

fig.savefig("out.png", dpi=100, facecolor="white")
